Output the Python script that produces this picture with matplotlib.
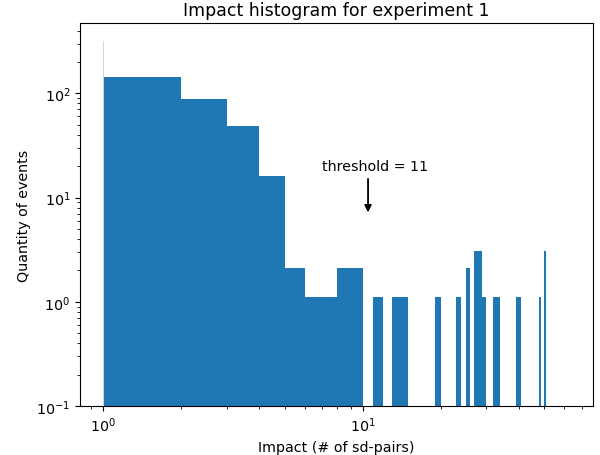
import matplotlib
matplotlib.use("Agg")
import matplotlib.pyplot as plt
import numpy as np

# Histogram data (integer bins from 1 to 63)
bin_edges = list(range(1, 64))
counts = [144, 88, 48, 16, 2, 1, 1, 2, 2, 0,      # 1..10
          1, 0, 1, 1, 0, 0, 0, 0, 1, 0,          # 11..20
          0, 0, 1, 0, 2, 0, 3, 3, 1, 0,          # 21..30
          0, 1, 1, 0, 0, 0, 0, 0, 1, 1,          # 31..40
          0, 0, 0, 0, 0, 0, 0, 1, 0, 3,          # 41..50
          0, 0, 0, 0, 0, 0, 0, 0, 0, 0,          # 51..60
          0, 0]                                   # 61..62
spike_x = 1.0
spike_count = 320
threshold = 11

plt.rcParams['font.size'] = 10.3

fig = plt.figure(figsize=(6.0, 4.56), dpi=100)
ax = fig.add_axes([80/600, 49/456, 513/600, 383/456])

lefts = np.array(bin_edges[:-1], dtype=float)
widths = np.diff(bin_edges)
ax.bar(lefts, counts, width=widths, align='edge', bottom=0.1, color='#1f77b4')
ax.bar([spike_x], [spike_count], width=0.003, align='edge', bottom=0.1,
       color='#c9d8e6')

ax.set_xscale('log')
ax.set_yscale('log')
ax.set_xlim(10**-0.09, 10**1.889)
ax.set_ylim(0.1, 10**2.675)

ax.text(7.0, 18.4, 'threshold = %d' % threshold, fontsize=10.3)
ax.annotate('', xy=(threshold - 0.5, 7.2), xytext=(threshold - 0.5, 15.1),
            arrowprops=dict(arrowstyle='-|>', color='black', lw=1.3,
                            shrinkA=0, shrinkB=0, mutation_scale=10))

ax.set_title('Impact histogram for experiment 1', fontsize=12.5)
ax.set_xlabel('Impact (# of sd-pairs)')
ax.set_ylabel('Quantity of events')

fig.savefig('out.png', dpi=100)
